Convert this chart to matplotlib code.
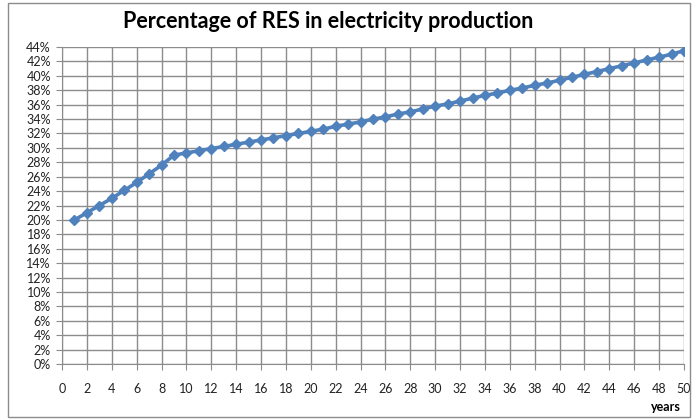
import matplotlib.pyplot as plt
from matplotlib.patches import Rectangle
from matplotlib.ticker import FuncFormatter, MultipleLocator

years = list(range(1, 51))
res_share = [20.0, 21.0, 22.0, 23.0, 24.1, 25.2, 26.4, 27.6, 29.0, 29.3,
             29.6, 29.9, 30.2, 30.5, 30.8, 31.1, 31.4, 31.7, 32.0, 32.3,
             32.6, 33.0, 33.3, 33.6, 34.0, 34.3, 34.7, 35.0, 35.4, 35.8,
             36.1, 36.5, 36.9, 37.3, 37.6, 38.0, 38.3, 38.7, 39.0, 39.4,
             39.8, 40.2, 40.6, 41.0, 41.4, 41.8, 42.2, 42.6, 43.0, 43.5]

plt.rcParams['font.family'] = ['Lato', 'DejaVu Sans']

fig = plt.figure(figsize=(6.93, 4.2), dpi=100)
ax = fig.add_axes([0.0895, 0.1333, 0.8975, 0.7547])

ax.plot(years, res_share, color='#4F81BD', linewidth=2.6,
        marker='D', markersize=5.5, markeredgecolor='#4F81BD')

ax.set_xlim(0, 50)
ax.set_ylim(0, 44)
ax.xaxis.set_major_locator(MultipleLocator(2))
ax.yaxis.set_major_locator(MultipleLocator(2))
ax.yaxis.set_major_formatter(FuncFormatter(lambda v, p: f'{v:.0f}%'))
ax.grid(True, color='#8c8c8c', linewidth=1)
ax.set_axisbelow(True)

for side in ['top', 'right']:
    ax.spines[side].set_visible(False)
for side in ['left', 'bottom']:
    ax.spines[side].set_color('#8c8c8c')
ax.tick_params(axis='both', colors='#8c8c8c', labelcolor='#222222',
               labelsize=9, length=4)
ax.tick_params(axis='x', pad=10)
ax.tick_params(axis='y', pad=4)

fig.text(0.473, 0.948, 'Percentage of RES in electricity production',
         ha='center', va='center', fontsize=15.5, fontweight='bold')
fig.text(0.982, 0.03, 'years', ha='right', va='center',
         fontsize=9, fontweight='bold')

fig.patches.append(Rectangle((0.011, 0.007), 0.985, 0.985,
                             transform=fig.transFigure, fill=False,
                             edgecolor='#8c8c8c', linewidth=1))

fig.savefig('out.png', dpi=100)
